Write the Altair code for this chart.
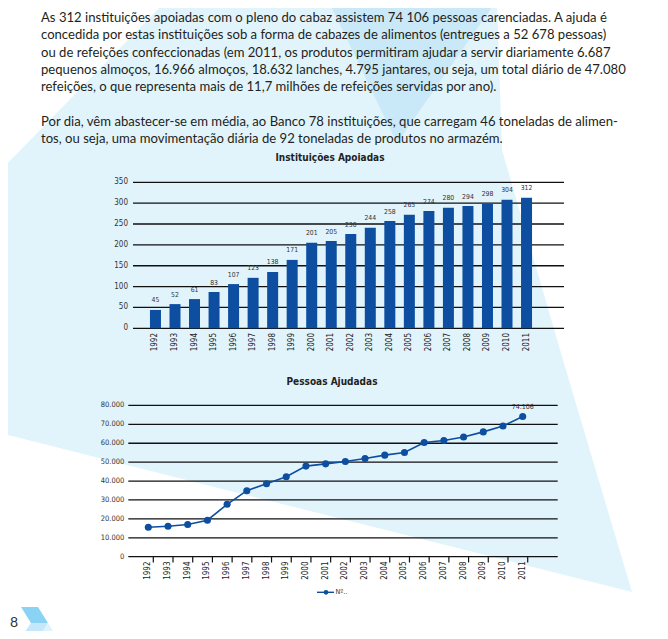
import altair as alt
import pandas as pd

# ---------------- data ----------------
anos = [str(y) for y in range(1992, 2012)]
# bar heights and printed value labels
instituicoes_barras = [44, 58, 70, 87, 106, 121, 135, 164, 205, 209, 226, 241, 257, 272, 281, 289, 293, 298, 308, 313]
instituicoes_rotulos = ["45", "52", "61", "83", "107", "123", "138", "171", "201", "205",
                        "230", "244", "258", "265", "274", "280", "294", "298", "304", "312"]
pessoas = [15600, 16100, 17000, 19300, 27700, 34900, 38600, 42300, 47900, 49100,
           50350, 51900, 53700, 55100, 60350, 61400, 63300, 66000, 69100, 74106]
ticks_barras = [0, 50, 100, 150, 200, 250, 300, 350]
ticks_pessoas = [0, 10000, 20000, 30000, 40000, 50000, 60000, 70000, 80000]

titulo_barras = "Instituições Apoiadas"
titulo_linhas = "Pessoas Ajudadas"
legenda_texto = "Nº.."
rotulo_final = "74.106"

paragrafo1 = [
    "As 312 instituições apoiadas com o pleno do cabaz assistem 74 106 pessoas carenciadas. A ajuda é",
    "concedida por estas instituições sob a forma de cabazes de alimentos (entregues a 52 678 pessoas)",
    "ou de refeições confeccionadas (em 2011, os produtos permitiram ajudar a servir diariamente 6.687",
    "pequenos almoços, 16.966 almoços, 18.632 lanches, 4.795 jantares, ou seja, um total diário de 47.080",
    "refeições, o que representa mais de 11,7 milhões de refeições servidas por ano).",
]
paragrafo2 = [
    "Por dia, vêm abastecer-se em média, ao Banco 78 instituições, que carregam 46 toneladas de alimen-",
    "tos, ou seja, uma movimentação diária de 92 toneladas de produtos no armazém.",
]

# ---------------- style ----------------
AZUL = "#0d4ea0"
TEXTO = "#231f20"
NARROW = "'Liberation Sans Narrow', 'Arial Narrow', 'DejaVu Sans Condensed', Roboto, sans-serif"
BODY = "Lato, 'Open Sans', sans-serif"
M = 8  # page margin


def px(v):
    return v - M


def py(v):
    return v - M


one = pd.DataFrame({"a": [0]})

# ---------------- background decoration ----------------
def poly(points):
    return "M" + " L".join(f"{x},{y}" for x, y in points) + " Z"

fundos = [
    (poly([(0, 171), (167, 0), (497, 0), (502, 150), (563, 360), (632, 592), (0, 433)]), "#e1f4fc"),
    (poly([(328, 0), (497, 0), (397, 143)]), "#c9e9f9"),
    (poly([(21, 607), (38, 607), (48, 623), (31, 623)]), "#8ad3f4"),
    (poly([(31, 623), (48, 623), (38, 639), (20, 639)]), "#c4e8f9"),
    (poly([(48, 623), (58, 639), (38, 639)]), "#def3fc"),
]
layers = []
for path, cor in fundos:
    layers.append(
        alt.Chart(one).mark_point(shape=path, filled=True, fill=cor, opacity=1, strokeWidth=0, size=4)
        .encode(x=alt.value(-M), y=alt.value(-M))
    )

# ---------------- paragraphs ----------------
linhas = []
for i, t in enumerate(paragrafo1):
    linhas.append({"t": t, "yy": py(21.6 + 17.45 * i)})
for i, t in enumerate(paragrafo2):
    linhas.append({"t": t, "yy": py(125.7 + 17.45 * i)})
df_txt = pd.DataFrame(linhas)
layers.append(
    alt.Chart(df_txt).mark_text(align="left", baseline="alphabetic", font=BODY, fontSize=13.1, color=TEXTO)
    .encode(x=alt.value(px(41)), y=alt.Y("yy:Q", scale=None), text="t:N")
)

# page number
layers.append(
    alt.Chart(one).mark_text(text="8", font=BODY, fontSize=14, color="#333333", baseline="middle", align="center")
    .encode(x=alt.value(px(14)), y=alt.value(py(622.5)))
)

# ---------------- bar chart ----------------
df_bar = pd.DataFrame({"ano": anos, "v": instituicoes_barras, "lbl": instituicoes_rotulos})
xb = alt.Scale(domain=anos, range=[px(145.7), px(536.3)], paddingInner=0.437, paddingOuter=0.2185)
yb = alt.Scale(domain=[0, 350], range=[py(328.3), py(182.3)], nice=False, zero=True)
df_gb = pd.DataFrame({"g": ticks_barras})

layers.append(
    alt.Chart(one).mark_text(text=titulo_barras, font=NARROW, fontWeight="bold", fontSize=10,
                             color="#222222", baseline="middle", align="center")
    .encode(x=alt.value(px(330)), y=alt.value(py(158)))
)
layers.append(
    alt.Chart(df_gb).mark_rule(color="#111111", strokeWidth=1.3)
    .encode(y=alt.Y("g:Q", scale=yb, axis=None), x=alt.value(px(133)), x2=alt.value(px(564)))
)
layers.append(
    alt.Chart(df_gb).mark_text(align="right", baseline="middle", font=NARROW, fontSize=8, color="#333333")
    .encode(y=alt.Y("g:Q", scale=yb, axis=None), x=alt.value(px(128)), text="g:Q")
)
layers.append(
    alt.Chart(df_bar).mark_bar(color=AZUL)
    .encode(x=alt.X("ano:O", scale=xb, axis=None), y=alt.Y("v:Q", scale=yb, axis=None))
)
layers.append(
    alt.Chart(df_bar).mark_text(baseline="middle", align="center", dy=-9.5, font=NARROW, fontSize=6.8, color="#333333")
    .encode(x=alt.X("ano:O", scale=xb, axis=None), y=alt.Y("v:Q", scale=yb, axis=None), text="lbl:N")
)
layers.append(
    alt.Chart(df_bar).mark_text(angle=270, align="right", baseline="middle", font=NARROW, fontSize=8, color="#222222")
    .encode(x=alt.X("ano:O", scale=xb, axis=None), y=alt.value(py(333)), text="ano:N")
)

# ---------------- line chart ----------------
df_lin = pd.DataFrame({"ano": anos, "p": pessoas})
xl = alt.Scale(type="point", domain=anos, range=[px(148.3), px(522.7)], padding=0)
yl = alt.Scale(domain=[0, 80000], range=[py(556.7), py(405.4)], nice=False, zero=True)
df_gl = pd.DataFrame({"g": ticks_pessoas, "lbl": [f"{v:,}".replace(",", ".") for v in ticks_pessoas]})

layers.append(
    alt.Chart(one).mark_text(text=titulo_linhas, font=NARROW, fontWeight="bold", fontSize=10,
                             color="#222222", baseline="middle", align="center")
    .encode(x=alt.value(px(332)), y=alt.value(py(382)))
)
layers.append(
    alt.Chart(df_gl).mark_rule(color="#111111", strokeWidth=1.3)
    .encode(y=alt.Y("g:Q", scale=yl, axis=None), x=alt.value(px(128.3)), x2=alt.value(px(557.7)))
)
layers.append(
    alt.Chart(df_gl).mark_text(align="right", baseline="middle", font=NARROW, fontSize=7.5, color="#333333")
    .encode(y=alt.Y("g:Q", scale=yl, axis=None), x=alt.value(px(124.3)), text="lbl:N")
)
layers.append(
    alt.Chart(df_lin).mark_rule(color="#111111", strokeWidth=1.2, xOffset=5)
    .encode(x=alt.X("ano:O", scale=xl, axis=None), y=alt.value(py(556.7)), y2=alt.value(py(562.5)))
)
layers.append(
    alt.Chart(df_lin).mark_line(color=AZUL, strokeWidth=1.6)
    .encode(x=alt.X("ano:O", scale=xl, axis=None), y=alt.Y("p:Q", scale=yl, axis=None))
)
layers.append(
    alt.Chart(df_lin).mark_point(filled=True, opacity=1, size=50, color=AZUL)
    .encode(x=alt.X("ano:O", scale=xl, axis=None), y=alt.Y("p:Q", scale=yl, axis=None))
)
layers.append(
    alt.Chart(df_lin.tail(1)).mark_text(text=rotulo_final, dy=-10, font=NARROW, fontSize=7, color="#333333",
                                        baseline="middle", align="center")
    .encode(x=alt.X("ano:O", scale=xl, axis=None), y=alt.Y("p:Q", scale=yl, axis=None))
)
layers.append(
    alt.Chart(df_lin).mark_text(angle=270, align="right", baseline="middle", font=NARROW, fontSize=8, color="#222222")
    .encode(x=alt.X("ano:O", scale=xl, axis=None), y=alt.value(py(561.5)), text="ano:N")
)

# legend
layers.append(
    alt.Chart(one).mark_rule(color=AZUL, strokeWidth=1.4)
    .encode(x=alt.value(px(317)), x2=alt.value(px(334)), y=alt.value(py(592.3)))
)
layers.append(
    alt.Chart(one).mark_point(filled=True, opacity=1, size=22, color=AZUL)
    .encode(x=alt.value(px(326)), y=alt.value(py(592.3)))
)
layers.append(
    alt.Chart(one).mark_text(text=legenda_texto, font=NARROW, fontSize=7, color="#333333",
                             align="left", baseline="middle")
    .encode(x=alt.value(px(335.5)), y=alt.value(py(592.3)))
)

chart = (
    alt.layer(*layers)
    .resolve_scale(x="independent", y="independent")
    .properties(width=652, height=623, autosize=alt.AutoSizeParams(type="none"), padding=0,
                background="white")
    .configure_view(stroke=None)
)

chart.save("out.html", embed_options={"renderer": "svg", "actions": False})
